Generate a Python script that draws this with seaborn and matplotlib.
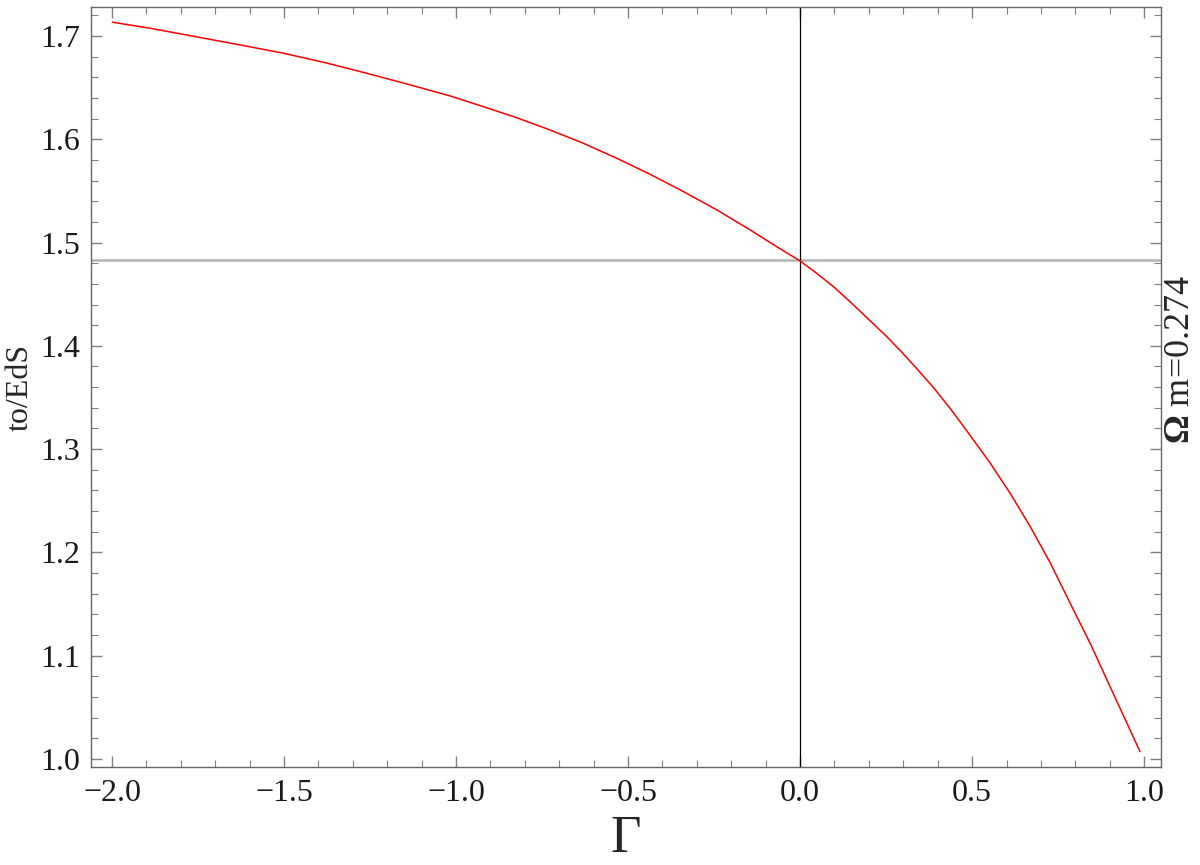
import numpy as np
import pandas as pd
import matplotlib
matplotlib.use("Agg")
import matplotlib.pyplot as plt
import seaborn as sns
from matplotlib.ticker import MultipleLocator

# values
gamma = [-1.999, -1.890, -1.744, -1.623, -1.502, -1.376, -1.260, -1.143, -1.017,
         -0.921, -0.824, -0.727, -0.630, -0.533, -0.436, -0.339, -0.242, -0.145,
         -0.068, 0.0, 0.048, 0.097, 0.145, 0.194, 0.252, 0.291, 0.339, 0.388,
         0.436, 0.485, 0.552, 0.611, 0.669, 0.727, 0.785, 0.843, 0.901, 0.959, 0.988]
t0_eds = [1.7133, 1.7075, 1.6985, 1.6910, 1.6833, 1.6738, 1.6639, 1.6535, 1.6419,
          1.6316, 1.6209, 1.6090, 1.5961, 1.5816, 1.5661, 1.5493, 1.5316, 1.5122,
          1.4960, 1.4822, 1.4703, 1.4573, 1.4428, 1.4273, 1.4089, 1.3955, 1.3780, 1.3595,
          1.3395, 1.3175, 1.2868, 1.2570, 1.2250, 1.1900, 1.1508, 1.1121, 1.0701, 1.0282, 1.0072]
lcdm_ref = 1.483
omega_m = 0.274

df = pd.DataFrame({"Gamma": gamma, "t0_EdS": t0_eds})

sns.set_style("ticks")
plt.rcParams["font.family"] = ["Liberation Serif", "DejaVu Serif"]
plt.rcParams["mathtext.fontset"] = "custom"
plt.rcParams["mathtext.rm"] = "Liberation Serif"
plt.rcParams["mathtext.bf"] = "Liberation Serif:bold"

fig, ax = plt.subplots(figsize=(12, 8.65), dpi=100)
fig.subplots_adjust(left=0.0758, right=0.9675, top=0.9919, bottom=0.1133)

ax.axhline(lcdm_ref, color="#b3b3b3", lw=1.8, zorder=1)
ax.axvline(0.0, color="black", lw=0.9, zorder=1)
sns.lineplot(data=df, x="Gamma", y="t0_EdS", color="red", lw=1.1, ax=ax, zorder=3)

ax.set_xlim(-2.061, 1.049)
ax.set_ylim(0.9923, 1.728)

# Mathematica-like frame: ticks inside on every side
ax.xaxis.set_major_locator(MultipleLocator(0.5))
ax.xaxis.set_minor_locator(MultipleLocator(0.1))
ax.yaxis.set_major_locator(MultipleLocator(0.1))
ax.yaxis.set_minor_locator(MultipleLocator(0.02))
ax.xaxis.set_major_formatter(lambda v, p: f"{v:.1f}".replace("-", "\u2212"))
ax.yaxis.set_major_formatter(lambda v, p: f"{v:.1f}")
ax.tick_params(which="both", direction="in", top=True, right=True,
               color="#808080", labelsize=23, labelcolor="#1a1a1a")
ax.tick_params(axis="x", pad=9)
ax.tick_params(axis="y", pad=8)
ax.tick_params(which="major", length=8, width=1)
ax.tick_params(which="minor", length=5, width=0.8)
for s in ax.spines.values():
    s.set_color("#666666")
    s.set_linewidth(1.0)

ax.set_xlabel("\u0393", fontsize=38, labelpad=5)
ax.set_ylabel("to/EdS", fontsize=23, labelpad=4)
ax.text(1.0185, 0.536, r"$\mathbf{\Omega}$ m=" + f"{omega_m}", transform=ax.transAxes,
        rotation=90, va="center", ha="center", fontsize=26)

plt.savefig("out.png", dpi=100)
